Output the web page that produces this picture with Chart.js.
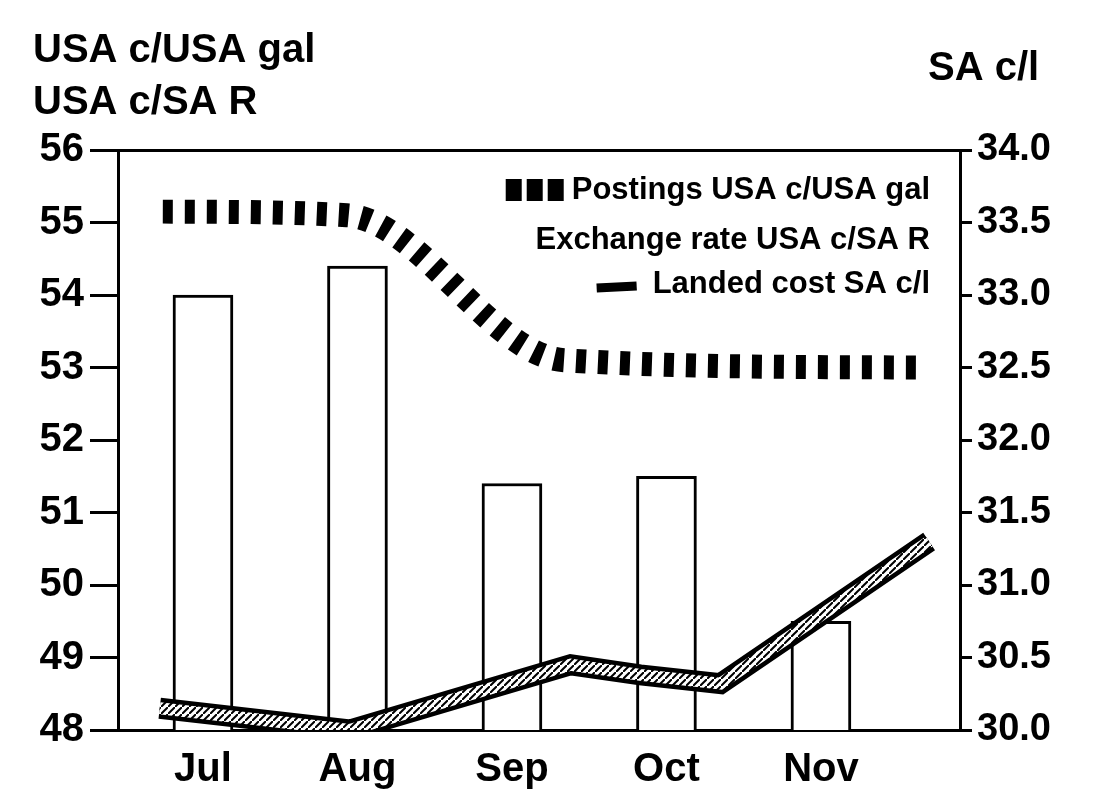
<!DOCTYPE html>
<html lang="en">
<head>
<meta charset="UTF-8">
<title>Postings, exchange rate and landed cost</title>
<script src="https://cdn.jsdelivr.net/npm/chart.js"></script>
<style>
  html, body { margin: 0; padding: 0; background: #fff; }
  #wrap { width: 1118px; height: 798px; }
</style>
</head>
<body>
<div id="wrap"><canvas id="myChart" width="1118" height="798"></canvas></div>
<script>
const months = ['Jul', 'Aug', 'Sep', 'Oct', 'Nov'];
const exchangeRate = [54.0, 54.4, 51.4, 51.5, 49.5];      // USA c/SA R, bars
// the two lines are read at part-month positions (0 = Jul, 1 = Aug ...)
const postingsX = [-0.26, 0.93, 2.34, 4.69];
const postings = [55.15, 55.1, 53.1, 53.0];               // USA c/USA gal
const landedX = [-0.28, 0.95, 2.38, 2.83, 3.35, 4.7];
const landedCost = [30.15, 30.0, 30.45, 30.38, 30.32, 31.3]; // SA c/l
const leftTicks = [48, 49, 50, 51, 52, 53, 54, 55, 56];
const rightTicks = [30.0, 30.5, 31.0, 31.5, 32.0, 32.5, 33.0, 33.5, 34.0];
const seriesNames = ['Postings USA c/USA gal', 'Exchange rate USA c/SA R', 'Landed cost SA c/l'];
const leftTitle = ['USA c/USA gal', 'USA c/SA R'];
const rightTitle = 'SA c/l';

const FONT = '"Liberation Sans", Arial, sans-serif';

function hatch() {
  const c = document.createElement('canvas');
  c.width = 7; c.height = 7;
  const g = c.getContext('2d');
  g.fillStyle = '#fff';
  g.fillRect(0, 0, 7, 7);
  g.strokeStyle = '#000';
  g.lineWidth = 2;
  g.beginPath(); g.moveTo(0, 7); g.lineTo(7, 0); g.stroke();
  return g.createPattern(c, 'repeat');
}
const hatchPattern = hatch();

function pts(xs, ys) {
  return xs.map((x, i) => ({ x: x, y: ys[i] }));
}

// titles + the legend inside the plot
const decor = {
  id: 'decor',
  afterDraw(chart) {
    const ctx = chart.ctx;
    const area = chart.chartArea;
    ctx.save();
    ctx.fillStyle = '#000';
    ctx.font = 'bold 40px ' + FONT;
    ctx.textAlign = 'left';
    ctx.textBaseline = 'alphabetic';
    ctx.fillText(leftTitle[0], 33, 62);
    ctx.fillText(leftTitle[1], 33, 114);
    ctx.fillText(rightTitle, 928, 80);

    ctx.font = 'bold 31px ' + FONT;
    ctx.textAlign = 'right';
    ctx.textBaseline = 'middle';
    const x = area.right - 30;
    const rows = [area.top + 40, area.top + 90, area.top + 134];
    seriesNames.forEach((name, i) => ctx.fillText(name, x, rows[i]));

    // postings key: three black blocks
    let w = ctx.measureText(seriesNames[0]).width;
    for (let k = 0; k < 3; k++) {
      ctx.fillRect(x - w - 66 + k * 21, rows[0] - 11, 16, 22);
    }
    // landed cost key: short band
    w = ctx.measureText(seriesNames[2]).width;
    ctx.strokeStyle = '#000';
    ctx.lineWidth = 9;
    ctx.beginPath();
    ctx.moveTo(x - w - 56, rows[2] + 4);
    ctx.lineTo(x - w - 16, rows[2] + 2);
    ctx.stroke();
    ctx.restore();
  }
};

const ctx = document.getElementById('myChart');
new Chart(ctx, {
  type: 'bar',
  data: {
    datasets: [
      {
        type: 'line',
        label: seriesNames[2],
        data: pts(landedX, landedCost),
        xAxisID: 'x', yAxisID: 'y1',
        borderColor: hatchPattern,
        borderWidth: 12,
        tension: 0,
        pointRadius: 0,
        order: 0
      },
      {
        type: 'line',
        label: seriesNames[2],
        data: pts(landedX, landedCost),
        xAxisID: 'x', yAxisID: 'y1',
        borderColor: '#000',
        borderWidth: 21,
        tension: 0,
        pointRadius: 0,
        order: 1
      },
      {
        type: 'line',
        label: seriesNames[0],
        data: pts(postingsX, postings),
        xAxisID: 'x', yAxisID: 'y',
        borderColor: '#000',
        borderWidth: 24,
        borderDash: [10, 12],
        borderCapStyle: 'butt',
        cubicInterpolationMode: 'monotone',
        pointRadius: 0,
        order: 1
      },
      {
        type: 'bar',
        label: seriesNames[1],
        data: months.map((m, i) => ({ x: i, y: exchangeRate[i] })),
        xAxisID: 'x', yAxisID: 'y',
        backgroundColor: '#fff',
        borderColor: '#000',
        borderWidth: 3,
        barThickness: 60,
        order: 3
      }
    ]
  },
  options: {
    responsive: false,
    animation: false,
    layout: { padding: { top: 150, left: 0, right: 0, bottom: 0 } },
    plugins: {
      legend: { display: false },
      tooltip: { enabled: false }
    },
    scales: {
      x: {
        type: 'linear',
        position: 'bottom',
        offset: false,
        min: -0.55,
        max: 4.9,
        afterBuildTicks: s => { s.ticks = months.map((m, i) => ({ value: i })); },
        afterFit: s => { s.height = 68; },
        ticks: {
          callback: v => months[v],
          color: '#000',
          font: { family: FONT, size: 40, weight: 'bold' },
          padding: 8,
          maxRotation: 0
        },
        grid: { display: false },
        border: { display: true, color: '#000', width: 3 }
      },
      xTop: {
        type: 'linear',
        position: 'top',
        offset: false,
        min: -0.55,
        max: 4.9,
        afterFit: s => { s.height = 0; },
        ticks: { display: false },
        grid: { display: false },
        border: { display: true, color: '#000', width: 3 }
      },
      y: {
        type: 'linear',
        position: 'left',
        min: 48,
        max: 56,
        afterBuildTicks: s => { s.ticks = leftTicks.map(v => ({ value: v })); },
        afterFit: s => { s.width = 118; },
        ticks: {
          color: '#000',
          font: { family: FONT, size: 40, weight: 'bold' },
          padding: 6
        },
        grid: { drawOnChartArea: false, tickLength: 28, color: '#000', lineWidth: 3 },
        border: { display: true, color: '#000', width: 3 }
      },
      y1: {
        type: 'linear',
        position: 'right',
        min: 30,
        max: 34,
        afterBuildTicks: s => { s.ticks = rightTicks.map(v => ({ value: v })); },
        afterFit: s => { s.width = 158; },
        ticks: {
          callback: v => v.toFixed(1),
          color: '#000',
          font: { family: FONT, size: 38, weight: 'bold' },
          padding: 5
        },
        grid: { drawOnChartArea: false, tickLength: 12, color: '#000', lineWidth: 3 },
        border: { display: true, color: '#000', width: 3 }
      }
    }
  },
  plugins: [decor]
});
</script>
</body>
</html>
